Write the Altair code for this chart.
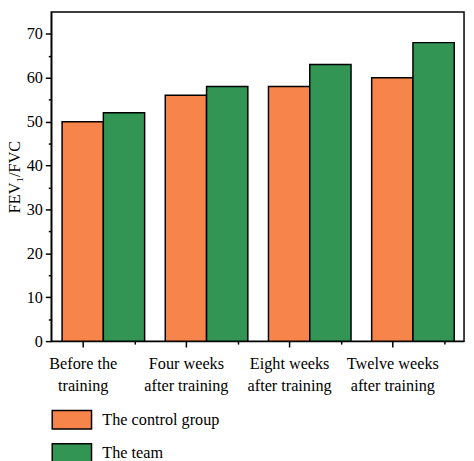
import altair as alt
import pandas as pd

categories = ["Before the\ntraining", "Four weeks\nafter training", "Eight weeks\nafter training", "Twelve weeks\nafter training"]
control = [50, 56, 58, 60]
team = [52, 58, 63, 68]
series = ["The control group", "The team"]
colors = ["#F7844A", "#339553"]

rows = []
for i, (c, t) in enumerate(zip(control, team)):
    rows.append({"idx": i + 1, "series": series[0], "value": c, "slot": 0})
    rows.append({"idx": i + 1, "series": series[1], "value": t, "slot": 1})
df = pd.DataFrame(rows)

label_arr = "[" + ",".join("['" + "','".join(c.split("\n")) + "']" for c in categories) + "]"
x_label_expr = f"datum.value % 1 == 0 ? {label_arr}[datum.value - 1] : ''"

FONT = "Liberation Serif"
FS = 16.5

bars = alt.Chart(df).transform_calculate(
    x0="datum.idx - 0.2 + datum.slot * 0.4",
    x1="datum.idx + 0.2 + datum.slot * 0.4",
).mark_bar(stroke="black", strokeWidth=1.5).encode(
    x=alt.X("x0:Q", scale=alt.Scale(domain=[0.695, 4.695], nice=False, zero=False),
            axis=alt.Axis(values=[1, 1.5, 2, 2.5, 3, 3.5, 4, 4.5], labelExpr=x_label_expr,
                          tickSize=alt.ExprRef("datum.value % 1 == 0 ? 6 : 3"),
                          labelLineHeight=22, labelPadding=9, labelBaseline="top",
                          grid=False, title=None, labelAngle=0, labelFlush=False)),
    x2="x1:Q",
    y=alt.Y("value:Q", scale=alt.Scale(domain=[0, 75], nice=False),
            axis=alt.Axis(values=list(range(0, 71, 5)),
                          labelExpr="datum.value % 10 == 0 ? datum.label : ''",
                          tickSize=alt.ExprRef("datum.value % 10 == 0 ? 6 : 3"),
                          labelPadding=3, grid=False, title="FEV₁/FVC", titlePadding=4)),
    y2=alt.datum(0),
    color=alt.Color("series:N", scale=alt.Scale(domain=series, range=colors),
                    legend=alt.Legend(title=None, orient="none", legendX=0, legendY=394,
                                      symbolType="M-1,-0.475H1V0.475H-1Z", symbolSize=1600,
                                      symbolStrokeColor="black", symbolStrokeWidth=1.5,
                                      symbolOpacity=1, labelOffset=10, rowPadding=-8,
                                      direction="vertical")),
)

chart = bars.properties(
    width=420, height=335,
    autosize=alt.AutoSizeParams(type="none"),
    padding={"left": 44, "top": 0, "right": 2, "bottom": 118},
).configure_view(
    stroke="black", strokeWidth=1.5
).configure_axis(
    domainColor="black", domainWidth=1.5, tickColor="black", tickWidth=1.5,
    labelFont=FONT, labelFontSize=FS, labelColor="black",
    titleFont=FONT, titleFontSize=FS, titleColor="black", titleFontWeight="normal",
).configure_legend(
    labelFont=FONT, labelFontSize=FS, labelColor="black",
)

chart.save("out.html", embed_options={"renderer": "svg", "actions": False})
